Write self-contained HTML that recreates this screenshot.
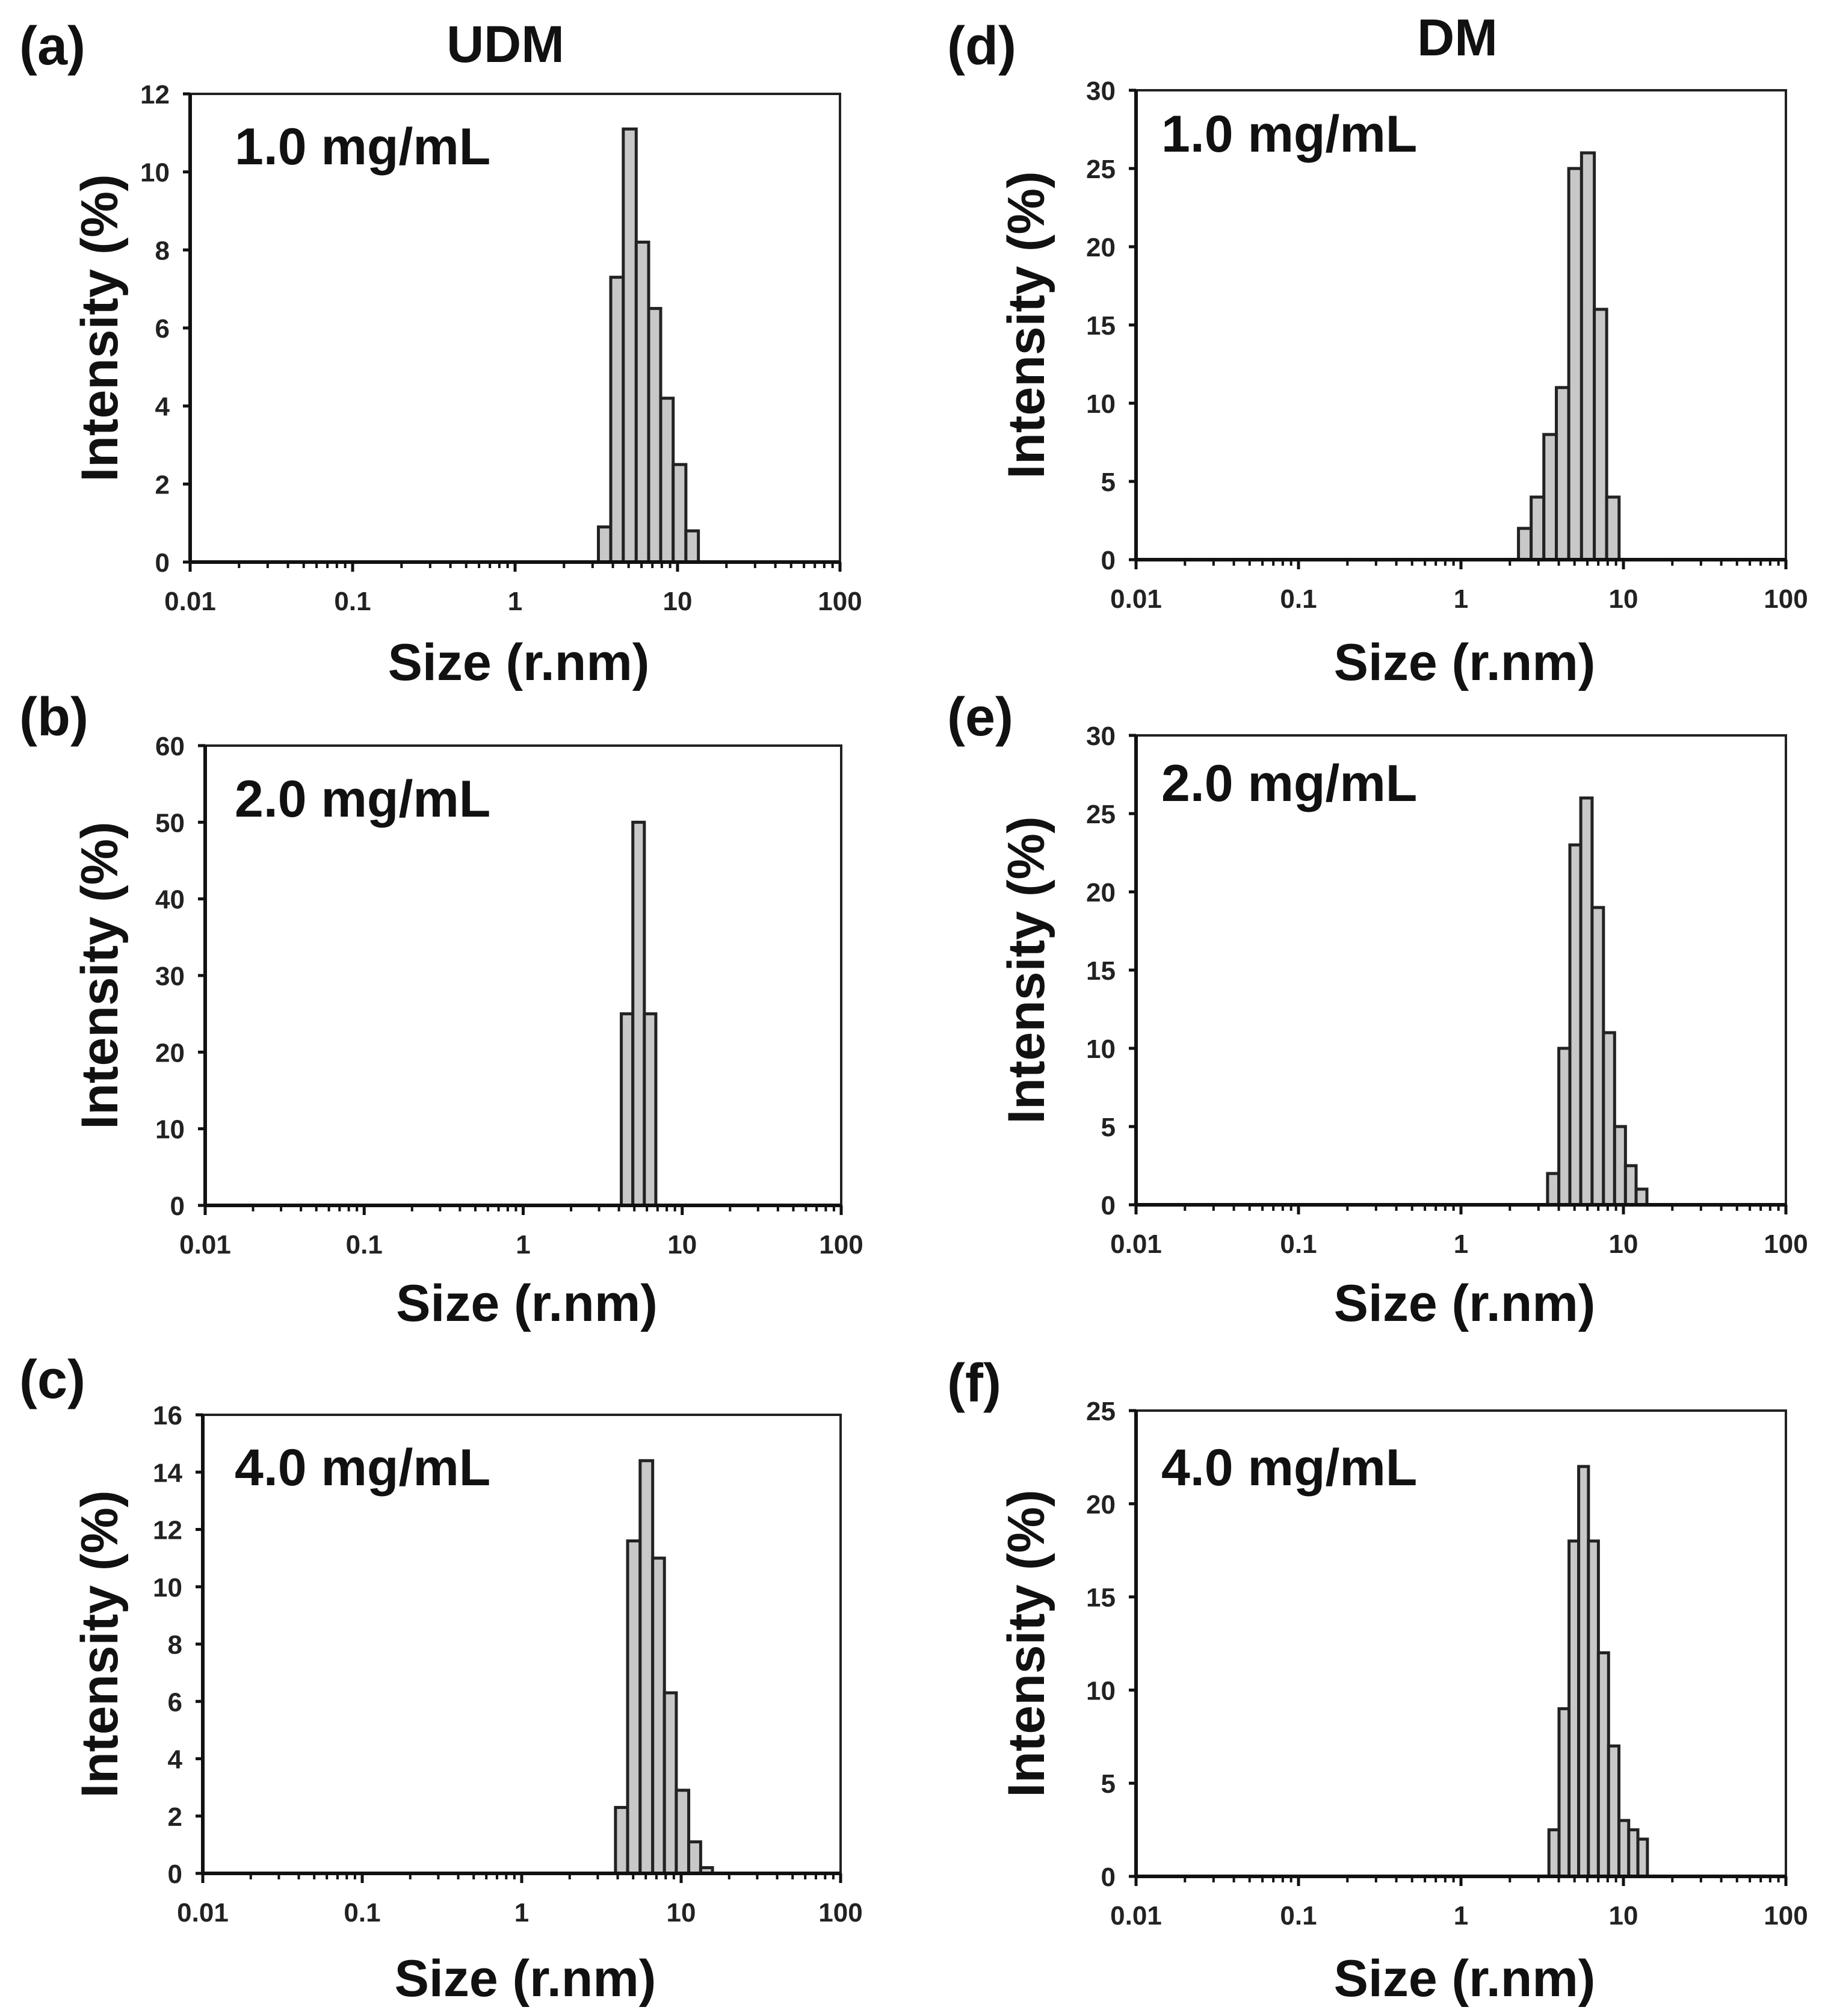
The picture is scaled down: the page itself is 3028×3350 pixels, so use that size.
<!DOCTYPE html>
<html><head><meta charset="utf-8"><style>
html,body{margin:0;padding:0;background:#fff;}
svg{display:block;font-family:"Liberation Sans",Arial,sans-serif;font-weight:bold;}
</style></head><body>
<svg id="fig" width="3028" height="3350" viewBox="0 0 3028 3350" xmlns="http://www.w3.org/2000/svg">
<rect x="0" y="0" width="3028" height="3350" fill="#fff"/>
<text x="840" y="103" font-size="86" text-anchor="middle" fill="#111">UDM</text>
<text x="2422" y="92" font-size="86" text-anchor="middle" fill="#111">DM</text>
</svg>
<script>
// Panel (a) UDM 1.0 mg/mL
const sizesA = [3.56, 4.23, 5.08, 6.10, 7.23, 8.58, 10.3, 12.3];
const valuesA = [0.9, 7.3, 11.1, 8.2, 6.5, 4.2, 2.5, 0.8];
const yTicksA = [0, 2, 4, 6, 8, 10, 12];
// Panel (b) UDM 2.0 mg/mL
const sizesB = [4.50, 5.32, 6.28];
const valuesB = [25, 50, 25];
const yTicksB = [0, 10, 20, 30, 40, 50, 60];
// Panel (c) UDM 4.0 mg/mL
const sizesC = [4.23, 5.04, 6.07, 7.24, 8.52, 10.2, 12.2, 14.4];
const valuesC = [2.3, 11.6, 14.4, 11.0, 6.3, 2.9, 1.1, 0.2];
const yTicksC = [0, 2, 4, 6, 8, 10, 12, 14, 16];
// Panel (d) DM 1.0 mg/mL
const sizesD = [2.47, 2.96, 3.54, 4.22, 5.03, 6.06, 7.23, 8.60];
const valuesD = [2, 4, 8, 11, 25, 26, 16, 4];
const yTicksD = [0, 5, 10, 15, 20, 25, 30];
// Panel (e) DM 2.0 mg/mL
const sizesE = [3.69, 4.34, 5.05, 5.91, 6.96, 8.16, 9.54, 11.1, 12.9];
const valuesE = [2, 10, 23, 26, 19, 11, 5, 2.5, 1];
const yTicksE = [0, 5, 10, 15, 20, 25, 30];
// Panel (f) DM 4.0 mg/mL
const sizesF = [3.73, 4.32, 4.95, 5.68, 6.53, 7.53, 8.71, 10.1, 11.5, 13.1];
const valuesF = [2.5, 9, 18, 22, 18, 12, 7, 3, 2.5, 2];
const yTicksF = [0, 5, 10, 15, 20, 25];
const xTickLabels = ["0.01", "0.1", "1", "10", "100"];
const xTickValues = [0.01, 0.1, 1, 10, 100];

const NS = "http://www.w3.org/2000/svg";
const svg = document.getElementById("fig");
function mk(tag, attrs, parent) {
  const e = document.createElementNS(NS, tag);
  for (const k in attrs) e.setAttribute(k, attrs[k]);
  (parent || svg).appendChild(e);
  return e;
}

const panels = [
  {id:"a", sizes:sizesA, values:valuesA, ticks:yTicksA, L:316, R:1396, T:156, B:934, conc:"1.0 mg/mL", cx:390, cy:273, lx:32, ly:107, yl:166, sy:1130},
  {id:"b", sizes:sizesB, values:valuesB, ticks:yTicksB, L:341, R:1398, T:1239, B:2003, conc:"2.0 mg/mL", cx:390, cy:1357, lx:32, ly:1222, yl:166, sy:2195},
  {id:"c", sizes:sizesC, values:valuesC, ticks:yTicksC, L:337, R:1397, T:2351, B:3113, conc:"4.0 mg/mL", cx:390, cy:2468, lx:32, ly:2323, yl:166, sy:3317},
  {id:"d", sizes:sizesD, values:valuesD, ticks:yTicksD, L:1888, R:2968, T:150, B:930, conc:"1.0 mg/mL", cx:1930, cy:252, lx:1574, ly:107, yl:1706, sy:1130},
  {id:"e", sizes:sizesE, values:valuesE, ticks:yTicksE, L:1888, R:2968, T:1222, B:2002, conc:"2.0 mg/mL", cx:1930, cy:1331, lx:1574, ly:1222, yl:1706, sy:2195},
  {id:"f", sizes:sizesF, values:valuesF, ticks:yTicksF, L:1888, R:2968, T:2344, B:3118, conc:"4.0 mg/mL", cx:1930, cy:2468, lx:1574, ly:2329, yl:1706, sy:3317}
];

panels.forEach(p => {
  const g = mk("g", {});
  
  
  const yMax = p.ticks[p.ticks.length - 1];
  const xScale = v => p.L + (Math.log10(v) + 2) / 4 * (p.R - p.L);
  const yScale = v => p.B - v / yMax * (p.B - p.T);

  const n = p.sizes.length;
  const lg = p.sizes.map(s => Math.log10(s));
  const step = n > 1 ? (lg[n - 1] - lg[0]) / (n - 1) : 0.07;
  for (let i = 0; i < n; i++) {
    const left = i > 0 ? (lg[i - 1] + lg[i]) / 2 : lg[i] - step / 2;
    const right = i < n - 1 ? (lg[i] + lg[i + 1]) / 2 : lg[i] + step / 2;
    const x0 = xScale(Math.pow(10, left)), x1 = xScale(Math.pow(10, right));
    const y = yScale(p.values[i]);
    const r = mk("rect", {x:x0, y:y, width:x1 - x0, height:p.B - y, fill:"#c8c8c8", stroke:"#222", "stroke-width":5}, g);
    
    
  }

  const fr = mk("rect", {x:p.L, y:p.T, width:p.R - p.L, height:p.B - p.T, fill:"none", stroke:"#222", "stroke-width":4}, g);
  
  
  mk("line", {x1:p.L, y1:p.B, x2:p.R, y2:p.B, stroke:"#111", "stroke-width":6}, g);
  mk("line", {x1:p.L, y1:p.T, x2:p.L, y2:p.B, stroke:"#111", "stroke-width":6}, g);

  p.ticks.forEach(t => {
    const y = yScale(t);
    mk("line", {x1:p.L - 12, y1:y, x2:p.L, y2:y, stroke:"#111", "stroke-width":5}, g);
    const tx = mk("text", {x:p.L - 34, y:y + 16, "font-size":44, "text-anchor":"end", fill:"#222"}, g);
    tx.textContent = t;
    
    
  });

  for (let d = -2; d < 2; d++) {
    for (let m = 2; m <= 9; m++) {
      const x = xScale(m * Math.pow(10, d));
      mk("line", {x1:x, y1:p.B, x2:x, y2:p.B + 10, stroke:"#111", "stroke-width":4}, g);
    }
  }
  xTickValues.forEach((v, i) => {
    const x = xScale(v);
    mk("line", {x1:x, y1:p.B, x2:x, y2:p.B + 16, stroke:"#111", "stroke-width":5}, g);
    const tx = mk("text", {x:x, y:p.B + 80, "font-size":44, "text-anchor":"middle", fill:"#222"}, g);
    tx.textContent = xTickLabels[i];
    
    
  });

  const xt = mk("text", {x:(p.L + p.R) / 2 + 6, y:p.sy, "font-size":86, "text-anchor":"middle", fill:"#111"}, g);
  xt.textContent = "Size (r.nm)";
  
  
  const ymid = (p.T + p.B) / 2;
  const yt = mk("text", {x:p.yl, y:ymid, "font-size":86, "text-anchor":"middle", "dominant-baseline":"central", fill:"#111", transform:"rotate(-90 " + p.yl + " " + ymid + ")"}, g);
  yt.textContent = "Intensity (%)";
  
  
  const ct = mk("text", {x:p.cx, y:p.cy, "font-size":86, fill:"#111"}, g);
  ct.textContent = p.conc;
  
  
  const pl = mk("text", {x:p.lx, y:p.ly, "font-size":90, fill:"#111"}, g);
  pl.textContent = "(" + p.id + ")";
  
  
});
</script>
</body></html>
